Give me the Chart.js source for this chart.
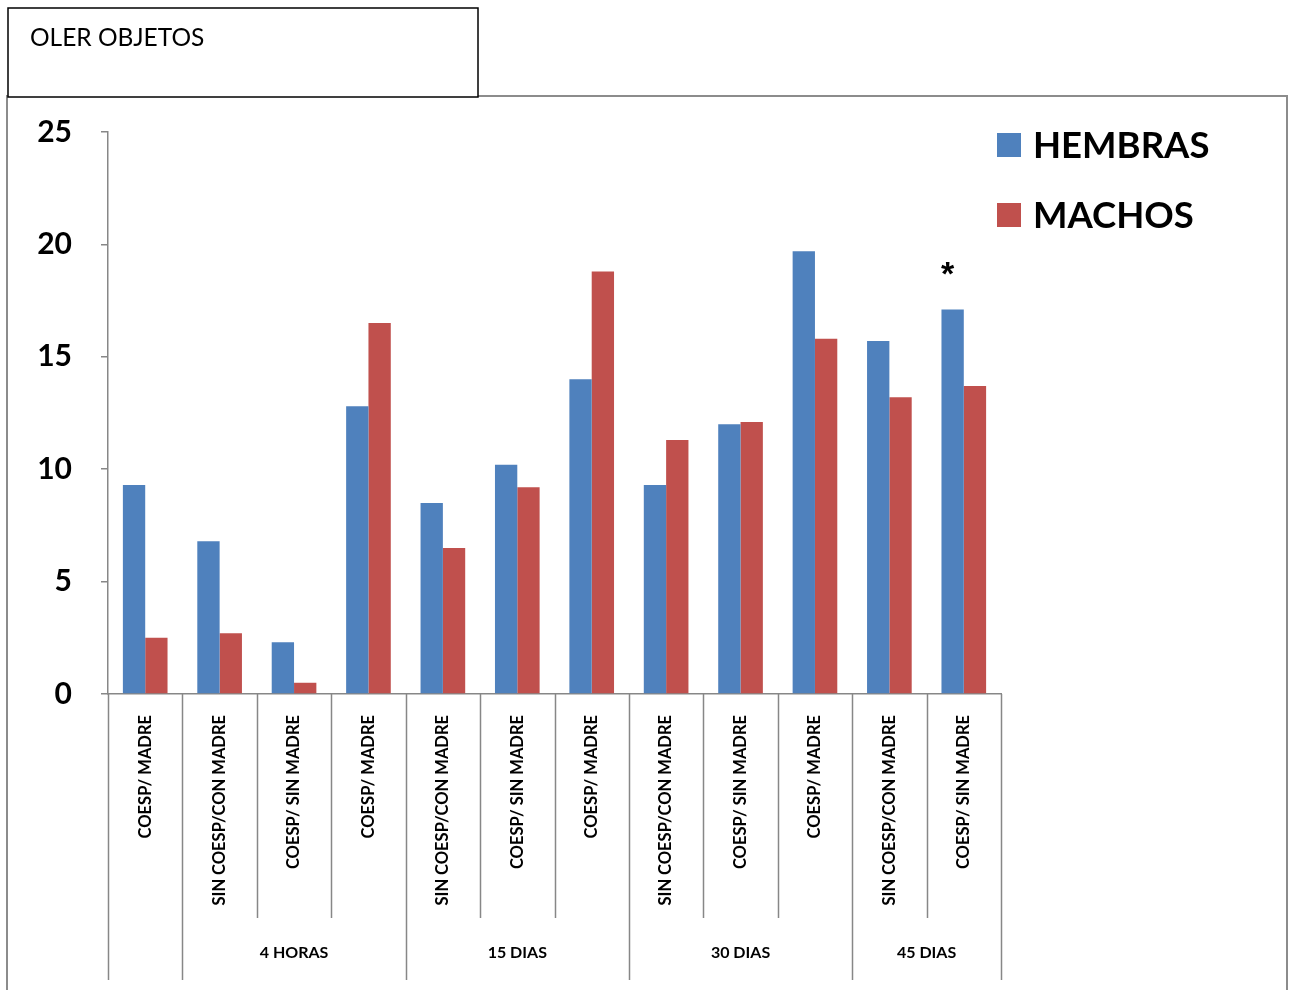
<!DOCTYPE html>
<html>
<head>
<meta charset="utf-8">
<script src="https://cdn.jsdelivr.net/npm/chart.js@4/dist/chart.umd.min.js"></script>
<style>
  body { margin: 0; background: #fff; }
  canvas { display: block; }
</style>
</head>
<body>
<canvas id="myChart" width="1293" height="990"></canvas>
<script>
// datos del grafico
const titulo = "OLER OBJETOS";
const categorias = [
    "COESP/ MADRE", "SIN COESP/CON MADRE", "COESP/ SIN MADRE",
    "COESP/ MADRE", "SIN COESP/CON MADRE", "COESP/ SIN MADRE",
    "COESP/ MADRE", "SIN COESP/CON MADRE", "COESP/ SIN MADRE",
    "COESP/ MADRE", "SIN COESP/CON MADRE", "COESP/ SIN MADRE"
];
// grupos del segundo nivel (primer indice de cada grupo)
const grupos = ["", "4 HORAS", "15 DIAS", "30 DIAS", "45 DIAS"];
const gruposInicio = [0, 1, 4, 7, 10, 12];
const hembras = [9.3, 6.8, 2.3, 12.8, 8.5, 10.2, 14.0, 9.3, 12.0, 19.7, 15.7, 17.1];
const machos = [2.5, 2.7, 0.5, 16.5, 6.5, 9.2, 18.8, 11.3, 12.1, 15.8, 13.2, 13.7];
const nombresSeries = ["HEMBRAS", "MACHOS"];
const coloresSeries = ["#4F81BD", "#C0504D"];
const ticksY = [0, 5, 10, 15, 20, 25];
// asterisco sobre la barra de hembras de la ultima categoria
const marcaTexto = "*";
const marcaIndice = 11;

const gris = "#878787";
const fuente = "Lato";

const pluginExtras = {
    id: "extras",
    beforeDraw(chart) {
        const ctx = chart.ctx;
        ctx.save();
        ctx.fillStyle = "#fff";
        ctx.fillRect(0, 0, chart.width, chart.height);
        // marco del grafico
        ctx.strokeStyle = "#8c8c8c";
        ctx.lineWidth = 2;
        ctx.beginPath();
        ctx.moveTo(7, 990);
        ctx.lineTo(7, 96);
        ctx.lineTo(1287, 96);
        ctx.lineTo(1287, 990);
        ctx.stroke();
        ctx.restore();
    },
    afterDraw(chart) {
        const ctx = chart.ctx;
        const x = chart.scales.x;
        const area = chart.chartArea;
        const ancho = x.getPixelForValue(1) - x.getPixelForValue(0);
        const borde = (i) => x.getPixelForValue(0) - ancho / 2 + i * ancho;

        ctx.save();
        // lineas separadoras del eje x
        ctx.strokeStyle = gris;
        ctx.lineWidth = 1.5;
        for (let i = 0; i <= categorias.length; i++) {
            const largo = gruposInicio.includes(i) ? 980 : 918;
            const px = Math.round(borde(i)) + 0.5;
            ctx.beginPath();
            ctx.moveTo(px, area.bottom);
            ctx.lineTo(px, largo);
            ctx.stroke();
        }

        // etiquetas de grupo
        ctx.fillStyle = "#000";
        ctx.font = "bold 16px " + fuente;
        ctx.textAlign = "center";
        ctx.textBaseline = "middle";
        grupos.forEach((g, k) => {
            const cx = (borde(gruposInicio[k]) + borde(gruposInicio[k + 1])) / 2;
            ctx.fillText(g, cx, 953);
        });

        // asterisco
        const barra = chart.getDatasetMeta(0).data[marcaIndice];
        ctx.font = "bold 34px 'Liberation Sans'";
        ctx.textBaseline = "alphabetic";
        ctx.fillText(marcaTexto, barra.x - 5, barra.y - 25);

        // leyenda
        ctx.textAlign = "left";
        ctx.textBaseline = "middle";
        ctx.font = "bold 36.5px " + fuente;
        nombresSeries.forEach((n, k) => {
            const y = 133 + k * 70;
            ctx.fillStyle = coloresSeries[k];
            ctx.fillRect(997, y, 24, 24);
            ctx.fillStyle = "#000";
            ctx.fillText(n, 1033, y + 13);
        });

        // caja del titulo
        ctx.fillStyle = "#fff";
        ctx.fillRect(8, 8, 470, 89);
        ctx.strokeStyle = "#000";
        ctx.lineWidth = 1.5;
        ctx.strokeRect(8, 8, 470, 89);
        ctx.fillStyle = "#000";
        ctx.font = "24.5px " + fuente;
        ctx.textBaseline = "alphabetic";
        ctx.fillText(titulo, 30, 46);
        ctx.restore();
    }
};

const config = {
    type: "bar",
    data: {
        labels: categorias,
        datasets: [
            { label: nombresSeries[0], data: hembras, backgroundColor: coloresSeries[0] },
            { label: nombresSeries[1], data: machos, backgroundColor: coloresSeries[1] }
        ]
    },
    options: {
        responsive: false,
        animation: false,
        categoryPercentage: 0.6,
        barPercentage: 1.0,
        layout: { padding: { top: 132, right: 292, left: 0, bottom: 0 } },
        plugins: {
            legend: { display: false },
            tooltip: { enabled: false }
        },
        scales: {
            x: {
                grid: { display: false },
                border: { color: gris, width: 1.5 },
                ticks: {
                    autoSkip: false,
                    minRotation: 90,
                    maxRotation: 90,
                    padding: 13,
                    color: "#000",
                    font: { family: fuente, weight: "bold", size: 16.5 }
                },
                afterFit: (s) => { s.height = 296; }
            },
            y: {
                min: 0,
                max: 25,
                afterBuildTicks: (s) => { s.ticks = ticksY.map((v) => ({ value: v })); },
                grid: { drawOnChartArea: false, tickLength: 7, color: gris, lineWidth: 1.5 },
                border: { color: gris, width: 1.5 },
                ticks: {
                    padding: 29,
                    color: "#000",
                    font: { family: fuente, weight: "bold", size: 30 }
                },
                afterFit: (s) => { s.width = 108; }
            }
        }
    },
    plugins: [pluginExtras]
};

new Chart(document.getElementById("myChart"), config);
</script>
</body>
</html>
